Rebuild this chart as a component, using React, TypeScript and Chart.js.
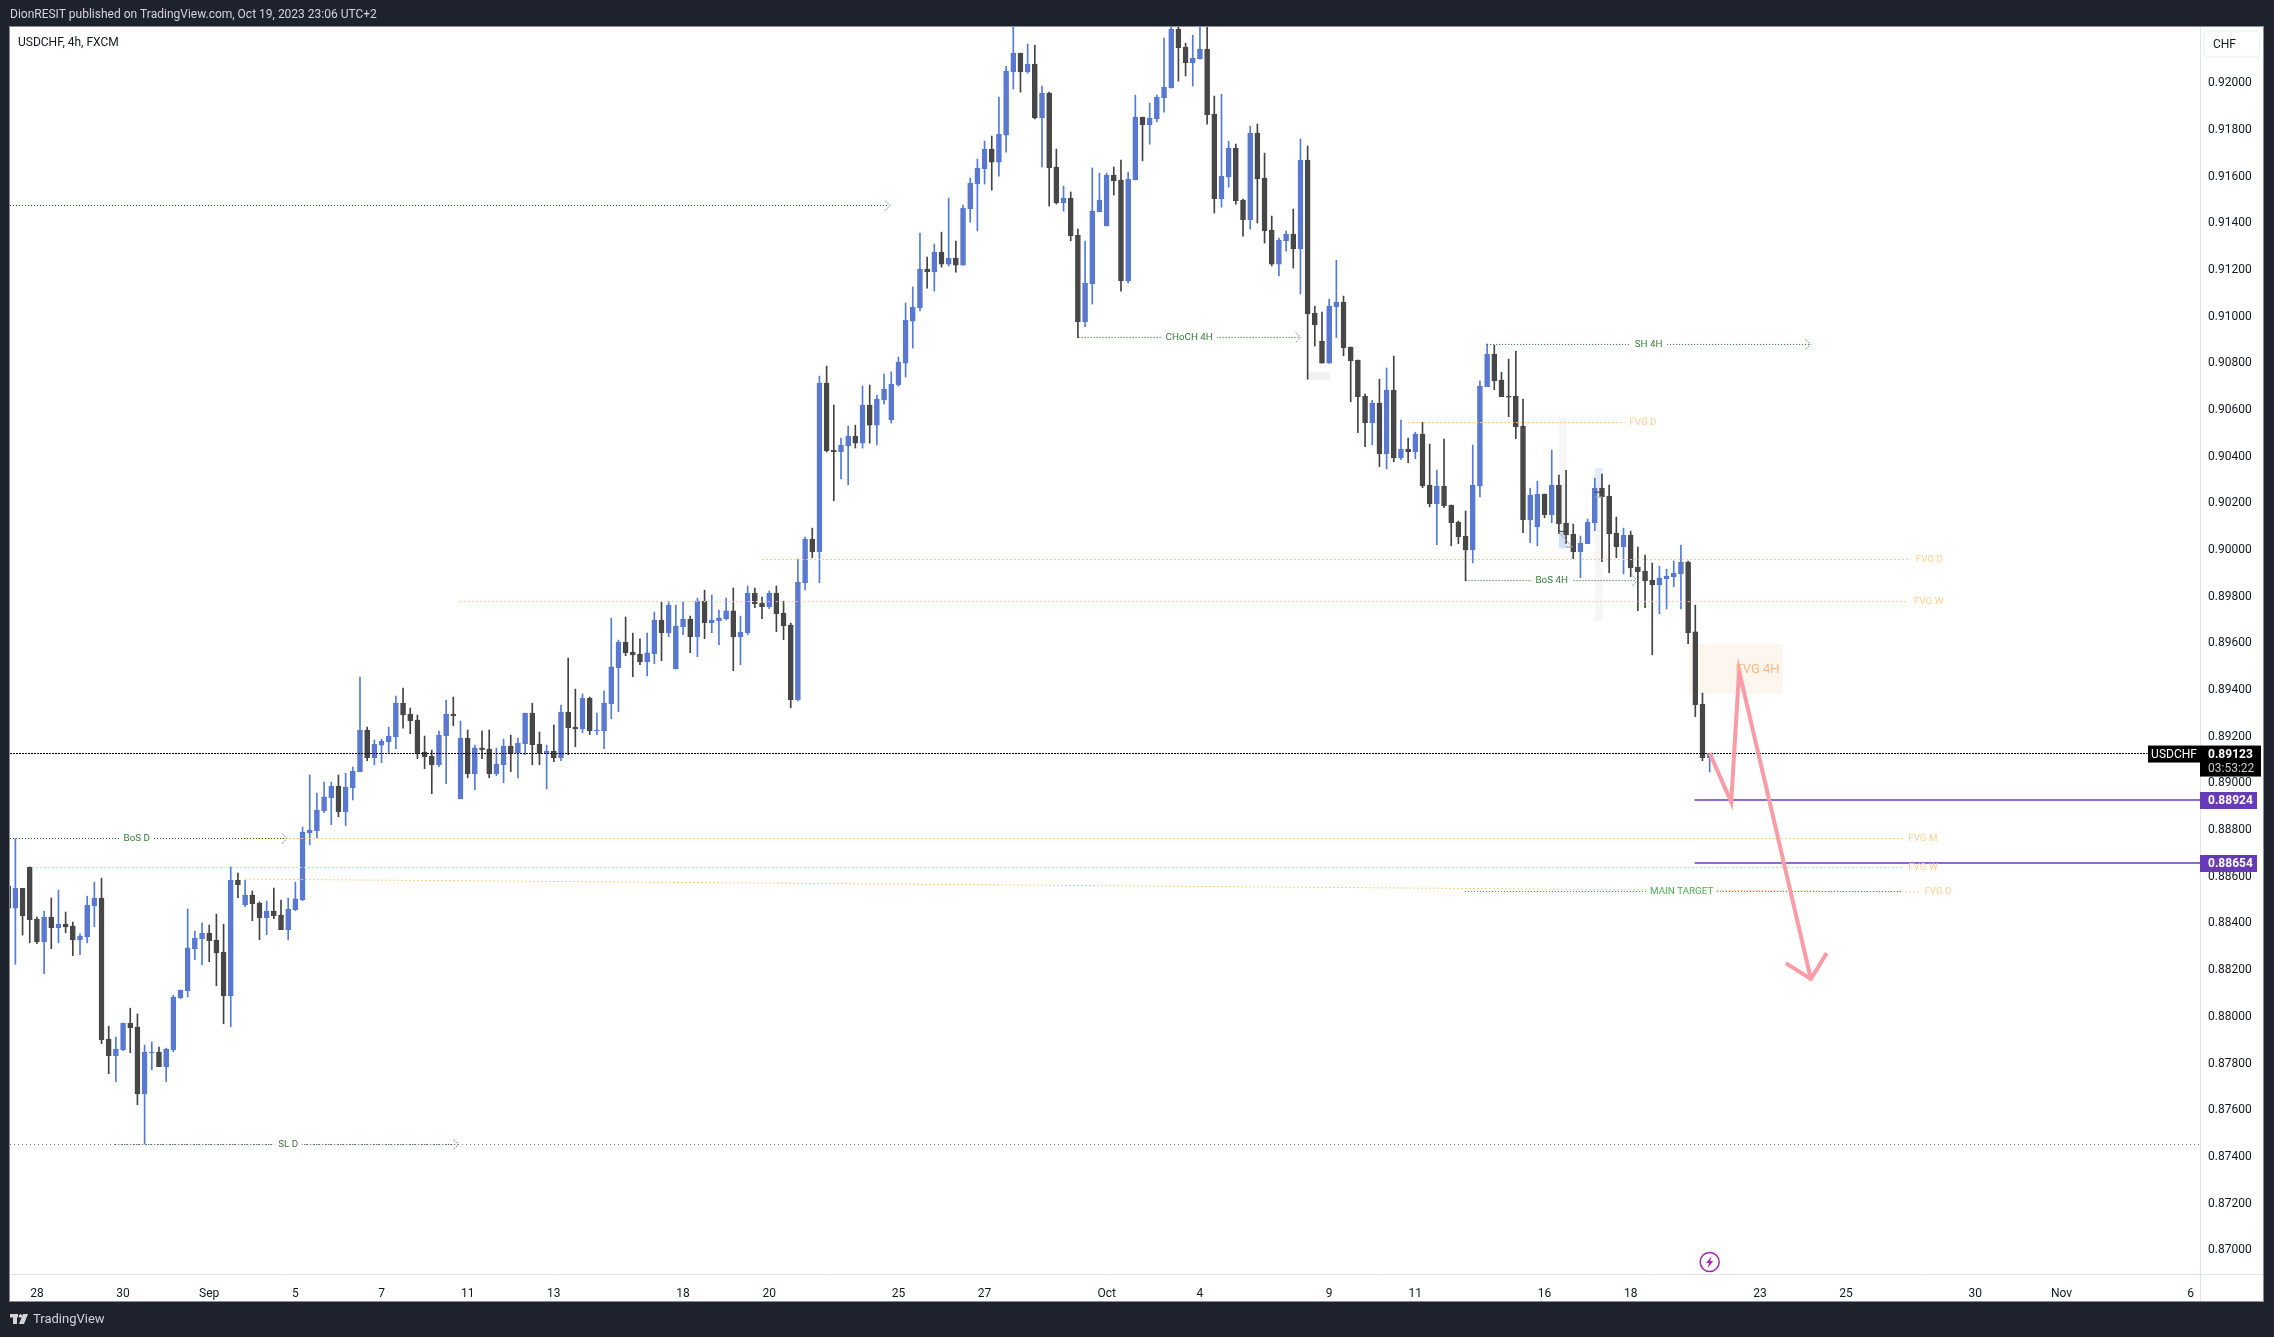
import { useEffect, useRef } from "react"
import { Chart, registerables } from "chart.js"

Chart.register(...registerables)

// USDCHF 4h candles, in points (1 point = 0.00001)
const opens = [
  88555, 88460, 88545, 88637, 88414, 88317, 88422, 88377, 88392, 88384,
  88325, 88338, 88471, 88504, 87900, 87828, 87854, 87968, 87951, 87665,
  87841, 87844, 87781, 87854, 88077, 88107, 88287, 88330, 88354, 88324,
  88272, 88085, 88581, 88474, 88517, 88482, 88420, 88448, 88431, 88368,
  88454, 88497, 88784, 88792, 88878, 88934, 88984, 88874, 88977, 89045,
  89224, 89105, 89159, 89174, 89195, 89339, 89292, 89266, 89129, 89112,
  89075, 89199, 89292, 88929, 89189, 89037, 89147, 89142, 89037, 89075,
  89155, 89127, 89165, 89296, 89164, 89124, 89134, 89105, 89301, 89236,
  89229, 89361, 89221, 89221, 89336, 89491, 89601, 89558, 89549, 89516,
  89551, 89695, 89641, 89486, 89666, 89699, 89623, 89776, 89684, 89692,
  89701, 89734, 89623, 89641, 89811, 89768, 89752, 89811, 89725, 89673,
  89354, 89855, 90042, 89988, 90710, 90423, 90416, 90441, 90483, 90453,
  90616, 90530, 90638, 90552, 90702, 90796, 90976, 91032, 91199, 91187,
  91272, 91220, 91246, 91216, 91457, 91564, 91629, 91713, 91657, 91773,
  92043, 92124, 92043, 92077, 91847, 91953, 91636, 91482, 91503, 91344,
  90973, 91136, 91444, 91384, 91601, 91580, 91149, 91581, 91850, 91817,
  91843, 91933, 91976, 92227, 92150, 92083, 92100, 92141, 91863, 91500,
  91594, 91717, 91494, 91410, 91781, 91589, 91366, 91220, 91320, 91349,
  91286, 91666, 91010, 90890, 90796, 91037, 91057, 90865, 90809, 90655,
  90540, 90625, 90408, 90680, 90390, 90428, 90416, 90492, 90273, 90193,
  90269, 90188, 90115, 90055, 89996, 90270, 90695, 90834, 90723, 90655,
  90655, 90526, 90125, 90095, 90235, 90146, 90273, 90110, 90063, 89988,
  90022, 90112, 90260, 90226, 90068, 90009, 90059, 89922, 89905, 89866,
  89846, 89872, 89881, 89893, 89943, 89644, 89335, 89105,
]
const highs = [
  88581, 88759, 88545, 88637, 88422, 88448, 88504, 88538, 88444, 88401,
  88350, 88512, 88572, 88589, 87955, 87908, 87968, 88032, 88007, 87874,
  87887, 87865, 87861, 88088, 88110, 88457, 88362, 88397, 88388, 88435,
  88392, 88637, 88611, 88581, 88534, 88487, 88491, 88547, 88495, 88504,
  88572, 88808, 89031, 88954, 89001, 89001, 89031, 89039, 89065, 89451,
  89236, 89181, 89185, 89236, 89369, 89404, 89318, 89288, 89198, 89138,
  89219, 89352, 89365, 89262, 89224, 89159, 89219, 89224, 89147, 89185,
  89202, 89189, 89296, 89339, 89215, 89159, 89245, 89331, 89532, 89399,
  89378, 89365, 89296, 89391, 89703, 89609, 89708, 89639, 89614, 89639,
  89729, 89772, 89776, 89759, 89772, 89712, 89789, 89823, 89802, 89738,
  89789, 89832, 89712, 89841, 89832, 89793, 89819, 89841, 89776, 89682,
  89956, 90051, 90089, 90740, 90783, 90616, 90475, 90526, 90530, 90698,
  90702, 90659, 90749, 90758, 90822, 91053, 91122, 91353, 91250, 91306,
  91357, 91503, 91319, 91473, 91589, 91670, 91747, 91769, 91936, 92068,
  92300, 92124, 92163, 92158, 91983, 91957, 91713, 91554, 91529, 91370,
  91319, 91632, 91610, 91610, 91636, 91666, 91614, 91944, 91850, 91910,
  91944, 92188, 92300, 92300, 92167, 92201, 92290, 92290, 91940, 91948,
  91747, 91734, 91499, 91811, 91820, 91696, 91426, 91332, 91362, 91456,
  91756, 91726, 91040, 91014, 91070, 91237, 91083, 90865, 90809, 90663,
  90637, 90727, 90775, 90826, 90552, 90475, 90500, 90543, 90449, 90338,
  90470, 90188, 90119, 90162, 90445, 90719, 90877, 90873, 90757, 90813,
  90847, 90642, 90260, 90290, 90235, 90423, 90316, 90337, 90106, 90055,
  90128, 90303, 90320, 90273, 90136, 90089, 90076, 90008, 89973, 89939,
  89926, 89913, 89948, 90016, 89948, 89759, 89382, 89123,
]
const lows = [
  88438, 88220, 88345, 88312, 88308, 88180, 88287, 88312, 88355, 88257,
  88261, 88312, 88381, 87880, 87751, 87717, 87850, 87841, 87618, 87450,
  87768, 87781, 87717, 87845, 88073, 88081, 88240, 88218, 88231, 88128,
  87965, 87953, 88505, 88467, 88407, 88325, 88347, 88415, 88368, 88325,
  88450, 88492, 88732, 88761, 88870, 88818, 88852, 88814, 88924, 89045,
  89092, 89075, 89084, 89127, 89144, 89232, 89208, 89101, 89058, 88951,
  89067, 88994, 89242, 88929, 89019, 88968, 89101, 89019, 89028, 88998,
  89045, 89019, 89118, 89075, 89075, 88972, 89088, 89092, 89118, 89152,
  89212, 89204, 89204, 89144, 89272, 89302, 89542, 89452, 89504, 89456,
  89508, 89521, 89623, 89486, 89632, 89555, 89538, 89615, 89641, 89589,
  89696, 89478, 89504, 89632, 89748, 89701, 89744, 89645, 89611, 89319,
  89349, 89824, 89962, 89855, 90415, 90206, 90300, 90275, 90432, 90432,
  90453, 90445, 90620, 90539, 90697, 90736, 90860, 91019, 91117, 91104,
  91207, 91212, 91186, 91216, 91400, 91362, 91563, 91537, 91597, 91700,
  91970, 91957, 92038, 91842, 91636, 91469, 91477, 91447, 91320, 90905,
  90952, 91049, 91444, 91384, 91516, 91104, 91139, 91581, 91662, 91734,
  91829, 91871, 91974, 92004, 92026, 91983, 92098, 91820, 91439, 91464,
  91550, 91477, 91340, 91370, 91396, 91310, 91212, 91169, 91276, 91203,
  91092, 90727, 90869, 90796, 90796, 90905, 90827, 90630, 90498, 90438,
  90446, 90352, 90343, 90373, 90382, 90369, 90386, 90262, 90180, 90018,
  90176, 90013, 90022, 89863, 89940, 90223, 90695, 90682, 90652, 90566,
  90472, 90069, 90026, 90013, 90133, 90112, 90065, 90023, 89958, 89876,
  90022, 90078, 89945, 89898, 89962, 89893, 89881, 89735, 89748, 89546,
  89722, 89743, 89838, 89743, 89594, 89281, 89092, 89044,
]
const closes = [
  88460, 88545, 88428, 88411, 88317, 88422, 88377, 88392, 88380, 88325,
  88341, 88474, 88504, 87897, 87828, 87857, 87968, 87948, 87665, 87844,
  87844, 87781, 87857, 88080, 88110, 88290, 88332, 88354, 88321, 88269,
  88085, 88581, 88561, 88517, 88480, 88420, 88448, 88428, 88368, 88457,
  88500, 88787, 88795, 88881, 88937, 88984, 88874, 88979, 89048, 89224,
  89105, 89164, 89176, 89198, 89339, 89289, 89264, 89124, 89109, 89075,
  89202, 89292, 89285, 89189, 89037, 89147, 89139, 89037, 89078, 89155,
  89127, 89168, 89296, 89161, 89124, 89134, 89105, 89301, 89234, 89229,
  89361, 89221, 89224, 89339, 89494, 89601, 89555, 89546, 89516, 89554,
  89695, 89641, 89759, 89669, 89699, 89623, 89776, 89684, 89695, 89704,
  89734, 89623, 89643, 89811, 89765, 89752, 89811, 89722, 89671, 89354,
  89858, 90042, 89988, 90710, 90420, 90416, 90445, 90483, 90453, 90616,
  90530, 90642, 90685, 90706, 90800, 90980, 91036, 91199, 91187, 91272,
  91220, 91246, 91216, 91460, 91567, 91631, 91713, 91657, 91777, 92047,
  92124, 92044, 92077, 91846, 91953, 91633, 91482, 91503, 91342, 90973,
  91139, 91447, 91494, 91601, 91577, 91149, 91584, 91850, 91817, 91846,
  91936, 91978, 92227, 92147, 92083, 92103, 92141, 91860, 91500, 91597,
  91717, 91492, 91410, 91781, 91586, 91363, 91220, 91323, 91349, 91286,
  91666, 91007, 90959, 90796, 91040, 91057, 90862, 90806, 90652, 90540,
  90625, 90408, 90680, 90390, 90428, 90416, 90492, 90270, 90193, 90269,
  90185, 90112, 90052, 89996, 90273, 90697, 90834, 90720, 90652, 90650,
  90523, 90125, 90230, 90235, 90146, 90273, 90108, 90060, 89988, 90025,
  90115, 90260, 90223, 90065, 90009, 90059, 89919, 89902, 89863, 89846,
  89875, 89883, 89896, 89943, 89641, 89332, 89105, 89123,
]

// bar number of each date label on the time axis
const dateTickBars = [4, 16, 28, 40, 52, 64, 76, 94, 106, 124, 136, 153, 166, 184, 196, 214, 226, 244, 256, 274, 286, 304]
const dateTickLabels = ["28", "30", "Sep", "5", "7", "11", "13", "18", "20", "25", "27", "Oct", "4", "9", "11", "16", "18", "23", "25", "30", "Nov", "6"]

const priceTicks = [
  0.87, 0.872, 0.874, 0.876, 0.878, 0.88, 0.882, 0.884, 0.886, 0.888, 0.89, 0.892, 0.894, 0.896,
  0.898, 0.9, 0.902, 0.904, 0.906, 0.908, 0.91, 0.912, 0.914, 0.916, 0.918, 0.92,
]

const lastPrice = 0.89123
const targetOne = 0.88924
const targetTwo = 0.88654
const stopLevel = 0.87448

// drawings: [name, from bar, to bar, price, bar of the text]
const greenLevels: [string, number, number, number, number][] = [
  ["", 0.25, 122.7, 0.91471, 0],
  ["BoS D", 0.25, 38.7, 0.88759, 17.9],
  ["CHoCH 4H", 149.1, 179.9, 0.90906, 164.5],
  ["SH 4H", 206, 250.9, 0.90876, 228.5],
  ["BoS 4H", 203, 226.8, 0.89864, 215],
  ["SL D", 14.9, 62.6, stopLevel, 39],
]
// drawings: [name, from bar, to bar, price at start, price at end, bar of the text]
const orangeLevels: [string, number, number, number, number, number][] = [
  ["FVG D", 195, 225.2, 0.90541, 0.90541, 227.7],
  ["FVG D", 105, 265, 0.89954, 0.89954, 267.6],
  ["FVG W", 62.9, 264.5, 0.89774, 0.89774, 267.5],
  ["FVG M", 33, 263.9, 0.88759, 0.88759, 266.7],
  ["FVG W", 3.3, 263.9, 0.88635, 0.88635, 266.7],
  ["FVG D", 33, 266.1, 0.88585, 0.8853, 268.8],
]
const mainTarget = { from: 202.9, to: 263.9, price: 0.88532, textBar: 233.1 }

// boxes: [from bar, to bar, top price, bottom price, fill]
const zones: [number, number, number, number, string][] = [
  [234.1, 247.2, 0.89592, 0.89378, "#fdf6ef"],
  [181, 184.1, 0.90757, 0.90723, "#f1f1f2"],
  [216, 217.1, 0.90565, 0.90072, "#f6f6f6"],
  [216, 217.1, 0.90072, 0.90003, "#d3e0fb"],
  [221, 222.1, 0.90346, 0.90239, "#e4ebfb"],
  [221, 222.1, 0.90239, 0.89691, "#f6f6f6"],
]

// small leftovers of the range tools: [from bar, to bar, price at start, price at end, colour]
const toolMarks: [number, number, number, number, string][] = [
  [216, 217.2, 0.90075, 0.90075, "#3a3a3a"],
  [216, 217.9, 0.90072, 0.90006, "#a6a9b3"],
  [217, 217.9, 0.90008, 0.90008, "#8c8c8c"],
  [221, 222.1, 0.90243, 0.90243, "#3a3a3a"],
  [221, 222.1, 0.90222, 0.90222, "#a6a9b3"],
]

// hand drawn forecast arrow
const arrowBars = [237, 240, 241.1, 251.1]
const arrowPrices = [0.89125, 0.88915, 0.89476, 0.88157]
const headBars = [247.6, 251.1, 253.3]
const headPrices = [0.88225, 0.88157, 0.88268]

const BLUE = "#5b78cc"
const BLUE_EDGE = "#5279dd"
const DARK = "#474747"
const DARK_WICK = "#434343"
const GREEN = "#1b5e20"
const ORANGE = "#ffcb85"
const PURPLE = "#673ab7"
const PINK = "#fb9ba6"
const FONT = "Roboto, sans-serif"

const candleBars = opens.map((_, i) => i)
const isUp = (i: number) => closes[i] >= opens[i]

function lineSet(points: { x: number; y: number }[], color: string, width: number, dash: number[], order = 1) {
  return {
    type: "line" as const,
    data: points,
    borderColor: color,
    borderWidth: width,
    borderDash: dash,
    pointRadius: 0,
    tension: 0,
    fill: false,
    order,
  }
}

const pageBackground = {
  id: "pageBackground",
  beforeDraw(chart: any) {
    const { ctx, width, height } = chart
    ctx.save()
    ctx.fillStyle = "#1e222d"
    ctx.fillRect(0, 0, width, height)
    ctx.fillStyle = "#ffffff"
    ctx.fillRect(10, 27, 2253, 1274)
    ctx.strokeStyle = "#8a8d96"
    ctx.strokeRect(9.5, 26.5, 2254, 1275)
    ctx.restore()
  },
}

const zoneBoxes = {
  id: "zoneBoxes",
  beforeDatasetsDraw(chart: any) {
    const { ctx, scales } = chart
    ctx.save()
    zones.forEach(([from, to, top, bottom, fill]) => {
      const x = scales.x.getPixelForValue(from)
      const y = scales.y.getPixelForValue(top)
      ctx.fillStyle = fill
      ctx.fillRect(x, y, scales.x.getPixelForValue(to) - x, scales.y.getPixelForValue(bottom) - y)
    })
    ctx.restore()
  },
}

function label(ctx: any, text: string, x: number, y: number, font: string, color: string, align = "center", gap = false) {
  ctx.font = font
  ctx.textAlign = align
  ctx.textBaseline = "middle"
  if (gap) {
    const w = ctx.measureText(text).width
    ctx.fillStyle = "#ffffff"
    ctx.fillRect(x - w / 2 - 4, y - 4, w + 8, 8)
  }
  ctx.fillStyle = color
  ctx.fillText(text, x, y)
}

const drawingLabels = {
  id: "drawingLabels",
  afterDatasetsDraw(chart: any) {
    const { ctx, scales } = chart
    const px = (bar: number) => scales.x.getPixelForValue(bar)
    const py = (price: number) => scales.y.getPixelForValue(price)
    ctx.save()
    greenLevels.forEach(([name, , to, price, textBar]) => {
      const x = px(to)
      const y = py(price)
      ctx.strokeStyle = "#6f9a74"
      ctx.lineWidth = 1
      ctx.setLineDash([2, 1])
      ctx.beginPath()
      ctx.moveTo(x - 4, y - 5)
      ctx.lineTo(x + 1, y)
      ctx.lineTo(x - 4, y + 5)
      ctx.stroke()
      ctx.setLineDash([])
      if (name) label(ctx, name, px(textBar), y, `9.8px ${FONT}`, "#387a3c", "center", true)
    })
    orangeLevels.forEach(([name, , , , end, textBar]) => {
      label(ctx, name, px(textBar), py(end), `9.8px ${FONT}`, "#ffcf8f", "center")
    })
    label(ctx, "MAIN TARGET", px(mainTarget.textBar), py(mainTarget.price), `9.8px ${FONT}`, "#4caf50", "center", true)
    label(ctx, "FVG 4H", px(240.6), py(0.89482), `13px ${FONT}`, "#ffb882", "left")

    // event mark under the last bar
    const cx = px(opens.length - 1)
    const cy = chart.chartArea.bottom - 12
    ctx.strokeStyle = "#9c27b0"
    ctx.lineWidth = 1.5
    ctx.setLineDash([])
    ctx.beginPath()
    ctx.arc(cx, cy, 9.5, 0, Math.PI * 2)
    ctx.stroke()
    ctx.fillStyle = "#9c27b0"
    ctx.beginPath()
    ctx.moveTo(cx + 2, cy - 6)
    ctx.lineTo(cx - 3.5, cy + 1)
    ctx.lineTo(cx - 0.5, cy + 1)
    ctx.lineTo(cx - 2, cy + 6)
    ctx.lineTo(cx + 3.5, cy - 1)
    ctx.lineTo(cx + 0.5, cy - 1)
    ctx.closePath()
    ctx.fill()
    ctx.restore()
  },
}

const frameText = {
  id: "frameText",
  afterDraw(chart: any) {
    const { ctx, scales, chartArea } = chart
    const py = (price: number) => scales.y.getPixelForValue(price)
    ctx.save()
    label(ctx, "DionRESIT published on TradingView.com, Oct 19, 2023 23:06 UTC+2", 10, 15, `12px ${FONT}`, "#d1d4dc", "left")
    label(ctx, "USDCHF, 4h, FXCM", 18, 43, `12px ${FONT}`, "#131722", "left")

    // currency button
    ctx.strokeStyle = "#f0f3fa"
    ctx.lineWidth = 1.5
    ctx.beginPath()
    ctx.roundRect(2204, 31, 56, 26, 4)
    ctx.stroke()
    label(ctx, "CHF", 2213, 45, `12px ${FONT}`, "#131722", "left")

    // time axis continues under the price axis
    ctx.strokeStyle = "#e0e3eb"
    ctx.lineWidth = 1
    ctx.beginPath()
    ctx.moveTo(chartArea.right + 0.5, chartArea.bottom)
    ctx.lineTo(chartArea.right + 0.5, 1301)
    ctx.moveTo(chartArea.right, chartArea.bottom + 0.5)
    ctx.lineTo(2263, chartArea.bottom + 0.5)
    ctx.stroke()

    // price tags
    const lastY = py(lastPrice)
    ctx.fillStyle = "#000000"
    ctx.fillRect(2148, lastY - 8, 52, 17)
    ctx.fillRect(2200, lastY - 8, 61, 31)
    label(ctx, "USDCHF", 2174, lastY + 1, `12px ${FONT}`, "#ffffff")
    label(ctx, lastPrice.toFixed(5), 2208, lastY + 1, `bold 12px ${FONT}`, "#ffffff", "left")
    label(ctx, "03:53:22", 2208, lastY + 15.5, `12px ${FONT}`, "#c9c9c9", "left")
    ;[targetOne, targetTwo].forEach((price) => {
      const y = py(price)
      ctx.fillStyle = PURPLE
      ctx.fillRect(2200, y - 8, 57, 17)
      label(ctx, price.toFixed(5), 2208, y + 1, `bold 12px ${FONT}`, "#ffffff", "left")
    })

    // footer logo
    ctx.fillStyle = "#d1d4dc"
    ctx.fillRect(10, 1314, 8, 3.5)
    ctx.fillRect(13, 1314, 4, 10)
    ctx.beginPath()
    ctx.arc(20.5, 1316, 1.8, 0, Math.PI * 2)
    ctx.fill()
    ctx.beginPath()
    ctx.moveTo(23, 1314)
    ctx.lineTo(28, 1314)
    ctx.lineTo(24, 1324)
    ctx.lineTo(19, 1324)
    ctx.closePath()
    ctx.fill()
    label(ctx, "TradingView", 33, 1319.5, `13px ${FONT}`, "#d1d4dc", "left")
    ctx.restore()
  },
}

export default function App() {
  const chartRef = useRef<HTMLCanvasElement>(null)
  const chartInstance = useRef<Chart | null>(null)

  useEffect(() => {
    if (!chartRef.current) return
    if (chartInstance.current) chartInstance.current.destroy()

    const wicks = {
      type: "bar" as const,
      data: candleBars.map((i) => ({ x: i, y: [lows[i] / 100000, highs[i] / 100000] })),
      backgroundColor: candleBars.map((i) => (isUp(i) ? BLUE_EDGE : DARK_WICK)),
      barThickness: 1,
      grouped: false,
      order: 4,
    }
    const bodies = {
      type: "bar" as const,
      data: candleBars.map((i) => ({ x: i, y: [opens[i] / 100000, closes[i] / 100000] })),
      backgroundColor: candleBars.map((i) => (isUp(i) ? BLUE : DARK)),
      borderColor: candleBars.map((i) => (isUp(i) ? BLUE_EDGE : DARK)),
      borderWidth: 1,
      borderSkipped: false,
      barThickness: 5,
      grouped: false,
      order: 3,
    }

    const datasets: any[] = [
      wicks,
      bodies,
      lineSet([{ x: 0.25, y: lastPrice }, { x: 298, y: lastPrice }], "#000000", 1, [2, 1]),
      lineSet([{ x: 0.25, y: stopLevel }, { x: 305.3, y: stopLevel }], "#787b86", 1, [1, 3]),
      lineSet([{ x: 234.9, y: targetOne }, { x: 305.3, y: targetOne }], PURPLE, 1.5, []),
      lineSet([{ x: 234.9, y: targetTwo }, { x: 305.3, y: targetTwo }], PURPLE, 1.5, []),
      lineSet([{ x: mainTarget.from, y: mainTarget.price }, { x: mainTarget.to, y: mainTarget.price }], "#2e7d32", 1, [1, 2]),
      ...greenLevels.map(([, from, to, price]) =>
        lineSet([{ x: from, y: price }, { x: to, y: price }], GREEN, 1, [1, 2]),
      ),
      ...orangeLevels.map(([, from, to, start, end]) =>
        lineSet([{ x: from, y: start }, { x: to, y: end }], ORANGE, 1, [2, 2]),
      ),
      ...toolMarks.map(([from, to, start, end, color]) =>
        lineSet([{ x: from, y: start }, { x: to, y: end }], color, 1, []),
      ),
      lineSet(arrowBars.map((x, i) => ({ x, y: arrowPrices[i] })), PINK, 4, [], 0),
      lineSet(headBars.map((x, i) => ({ x, y: headPrices[i] })), PINK, 4, [], 0),
    ]

    chartInstance.current = new Chart(chartRef.current, {
      type: "bar",
      data: { datasets },
      plugins: [pageBackground, zoneBoxes, drawingLabels, frameText],
      options: {
        animation: false,
        responsive: false,
        devicePixelRatio: 1,
        events: [],
        layout: { padding: { left: 10, top: 27, right: 10, bottom: 36 } },
        plugins: {
          legend: { display: false },
          tooltip: { enabled: false },
        },
        scales: {
          x: {
            type: "linear",
            offset: false,
            min: 0.25,
            max: 305.3,
            grid: { display: false, offset: false },
            border: { color: "#e0e3eb" },
            afterBuildTicks: (scale: any) => {
              scale.ticks = dateTickBars.map((value) => ({ value }))
            },
            afterFit: (scale: any) => {
              scale.height = 27
            },
            ticks: {
              autoSkip: false,
              maxRotation: 0,
              minRotation: 0,
              padding: 5,
              color: "#131722",
              font: { family: FONT, size: 12 },
              callback: (value: any) => dateTickLabels[dateTickBars.indexOf(value)],
            },
          },
          y: {
            type: "linear",
            position: "right",
            beginAtZero: false,
            min: 0.86893,
            max: 0.92236,
            grid: { display: false, drawTicks: false },
            border: { color: "#e0e3eb" },
            afterBuildTicks: (scale: any) => {
              scale.ticks = priceTicks.map((value) => ({ value }))
            },
            afterFit: (scale: any) => {
              scale.width = 64
            },
            ticks: {
              autoSkip: false,
              padding: 8,
              color: "#131722",
              // the empty first line nudges the label down to sit on its level
              font: { family: FONT, size: 12, lineHeight: 0.2 },
              callback: (value: any) => ["", Number(value).toFixed(5)],
            },
          },
        },
      },
    } as any)

    return () => {
      if (chartInstance.current) chartInstance.current.destroy()
    }
  }, [])

  return (
    <div style={{ position: "fixed", left: 0, top: 0, width: 2274, height: 1337, background: "#1e222d" }}>
      <canvas ref={chartRef} width={2274} height={1337} style={{ display: "block" }} />
    </div>
  )
}
